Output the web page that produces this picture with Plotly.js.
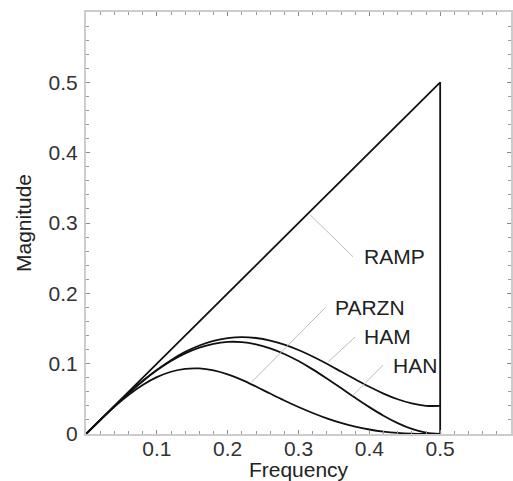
<!DOCTYPE html>
<html>
<head>
<meta charset="utf-8">
<script src="https://cdn.plot.ly/plotly-3.0.1.min.js"></script>
<style>html,body{margin:0;padding:0;background:#fff;}#chart{width:513px;height:481px;}</style>
</head>
<body>
<div id="chart"></div>
<script>
// Frequency samples
const freq = [0,0.02,0.04,0.06,0.08,0.10,0.12,0.14,0.16,0.18,0.20,0.22,0.24,0.26,0.28,0.30,0.32,0.34,0.36,0.38,0.40,0.42,0.44,0.46,0.48,0.50];
// RAMP filter (rises to 0.5 then drops to 0 at 0.5)
const rampX = [0, 0.5, 0.5];
const rampY = [0, 0.5, 0];
// Windowed ramp filters
const hanY = [0,0.0199,0.0394,0.0579,0.0751,0.0905,0.1037,0.1146,0.1229,0.1283,0.1309,0.1306,0.1275,0.1218,0.1138,0.1037,0.0919,0.0789,0.0653,0.0515,0.0382,0.0260,0.0155,0.0072,0.0019,0];
const hamY = [0,0.0199,0.0394,0.0581,0.0755,0.0912,0.1050,0.1167,0.1258,0.1325,0.1364,0.1378,0.1365,0.1329,0.1271,0.1194,0.1101,0.0998,0.0888,0.0778,0.0671,0.0575,0.0494,0.0435,0.0401,0.0400];
const parznY = [0,0.0198,0.0386,0.0554,0.0697,0.0808,0.0885,0.0926,0.0932,0.0904,0.0848,0.0769,0.0675,0.0575,0.0477,0.0384,0.0299,0.0223,0.0158,0.0105,0.0064,0.0034,0.0015,0.0005,0.0001,0];
// Tick labels
const xTicks = [0.1,0.2,0.3,0.4,0.5];
const xTickText = ["0.1","0.2","0.3","0.4","0.5"];
const yTicks = [0,0.1,0.2,0.3,0.4,0.5];
const yTickText = ["0","0.1","0.2","0.3","0.4","0.5"];
// Curve labels
const labelNames = ["RAMP","PARZN","HAM","HAN"];

const FONT = 'Liberation Sans, Arial, sans-serif';
const lineStyle = {color:'#111', width:1.8};
const traces = [
  {x: rampX, y: rampY, mode:'lines', line: lineStyle, hoverinfo:'skip'},
  {x: freq, y: hamY, mode:'lines', line: Object.assign({shape:'spline'}, lineStyle)},
  {x: freq, y: hanY, mode:'lines', line: Object.assign({shape:'spline'}, lineStyle)},
  {x: freq, y: parznY, mode:'lines', line: Object.assign({shape:'spline'}, lineStyle)}
];

// leader lines: [x0,y0,x1,y1], and label anchor [x,y]
const leaders = [
  [0.316,0.312,0.377,0.252],
  [0.234,0.074,0.3376,0.1795],
  [0.342,0.1026,0.380,0.138],
  [0.377,0.055,0.4195,0.098]
];
const labelPos = [[0.389,0.252],[0.348,0.1795],[0.389,0.138],[0.430,0.098]];

const shapes = leaders.map(l => ({type:'line', xref:'x', yref:'y', x0:l[0], y0:l[1], x1:l[2], y1:l[3], line:{color:'#bbbbbb', width:1}}));
const annotations = labelNames.map((t,i) => ({x:labelPos[i][0], y:labelPos[i][1], xref:'x', yref:'y', text:t, showarrow:false, xanchor:'left', yanchor:'middle', font:{family:FONT, size:21, color:'#222'}}));

const axisCommon = {
  range:[0,0.6], showgrid:false, zeroline:false,
  showline:true, linecolor:'#cccccc', linewidth:2, mirror:'allticks',
  ticks:'inside', ticklen:4, tickcolor:'#888', tickwidth:1,
  minor:{dtick:0.02, ticks:'inside', ticklen:3, tickcolor:'#999', tickwidth:1},
  tickfont:{family:FONT, size:21, color:'#333'},
  fixedrange:true
};

const layout = {
  width:513, height:481,
  margin:{l:86, r:2, t:12, b:47},
  paper_bgcolor:'#fff', plot_bgcolor:'#fff',
  showlegend:false,
  xaxis: Object.assign({}, axisCommon, {tickmode:'array', tickvals:xTicks, ticktext:xTickText, ticklabelstandoff:-5,
    title:{text:'Frequency', standoff:2, font:{family:FONT, size:21, color:'#222'}}}),
  yaxis: Object.assign({}, axisCommon, {tickmode:'array', tickvals:yTicks, ticktext:yTickText, ticklabelstandoff:2,
    title:{text:'Magnitude', standoff:11, font:{family:FONT, size:21, color:'#222'}}}),
  shapes: shapes,
  annotations: annotations
};

Plotly.newPlot('chart', traces, layout, {staticPlot:true, displayModeBar:false});
</script>
</body>
</html>
